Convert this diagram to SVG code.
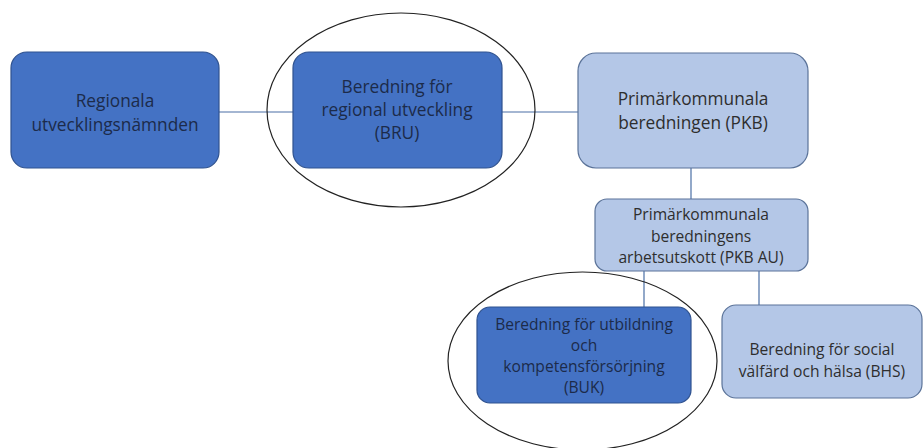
<svg xmlns="http://www.w3.org/2000/svg" width="923" height="448" viewBox="0 0 923 448">
<style>
.dark{fill:#4472C4;stroke:#2F528F;stroke-width:1.2}
.light{fill:#B4C7E7;stroke:#5B7399;stroke-width:1.2}
.t{font-family:"Open Sans","Liberation Sans",sans-serif;text-anchor:middle}
.td{fill:#1C2B4A;font-size:17.3px}
.tl{fill:#2E2E2E;font-size:17.3px}
.s{font-size:15.6px}
.c{stroke:#4A6FA5;stroke-width:1.2;fill:none}
.e{fill:none;stroke:#222;stroke-width:1.2}
</style>
<rect width="923" height="448" fill="#fff"/>
<g id="connectors">
<line class="c" x1="219" y1="112" x2="293" y2="112"/>
<line class="c" x1="502" y1="112" x2="578" y2="112"/>
<line class="c" x1="691" y1="168" x2="691" y2="199"/>
<line class="c" x1="644" y1="271" x2="644" y2="307"/>
<line class="c" x1="759" y1="271" x2="759" y2="305"/>
</g>
<g id="n-regionala">
<rect class="dark" x="11" y="52" width="208" height="116" rx="16"/>
<text class="t td" x="115" y="107">Regionala</text>
<text class="t td" x="115" y="131">utvecklingsnämnden</text>
</g>
<g id="n-bru">
<rect class="dark" x="293" y="52" width="209" height="116" rx="16"/>
<text class="t td" x="397" y="93">Beredning för</text>
<text class="t td" x="397" y="116">regional utveckling</text>
<text class="t td" x="397" y="139">(BRU)</text>
</g>
<g id="n-pkb">
<rect class="light" x="578" y="53" width="230" height="115" rx="18"/>
<text class="t tl" x="693" y="105">Primärkommunala</text>
<text class="t tl" x="693" y="129">beredningen (PKB)</text>
</g>
<g id="n-pkbau">
<rect class="light" x="595" y="199" width="213" height="72" rx="12"/>
<text class="t tl s" x="701" y="220">Primärkommunala</text>
<text class="t tl s" x="701" y="242">beredningens</text>
<text class="t tl s" x="701" y="263">arbetsutskott (PKB AU)</text>
</g>
<g id="n-buk">
<rect class="dark" x="477" y="307" width="214" height="96" rx="13"/>
<text class="t td s" x="584" y="330">Beredning för utbildning</text>
<text class="t td s" x="584" y="351">och</text>
<text class="t td s" x="584" y="372">kompetensförsörjning</text>
<text class="t td s" x="584" y="393">(BUK)</text>
</g>
<g id="n-bhs">
<rect class="light" x="722" y="305" width="200" height="93" rx="14"/>
<text class="t tl s" x="822" y="355">Beredning för social</text>
<text class="t tl s" x="822" y="377">välfärd och hälsa (BHS)</text>
</g>
<g id="highlights">
<ellipse class="e" cx="401" cy="110" rx="134" ry="97"/>
<ellipse class="e" cx="582.5" cy="361" rx="134.5" ry="89"/>
</g>
</svg>
